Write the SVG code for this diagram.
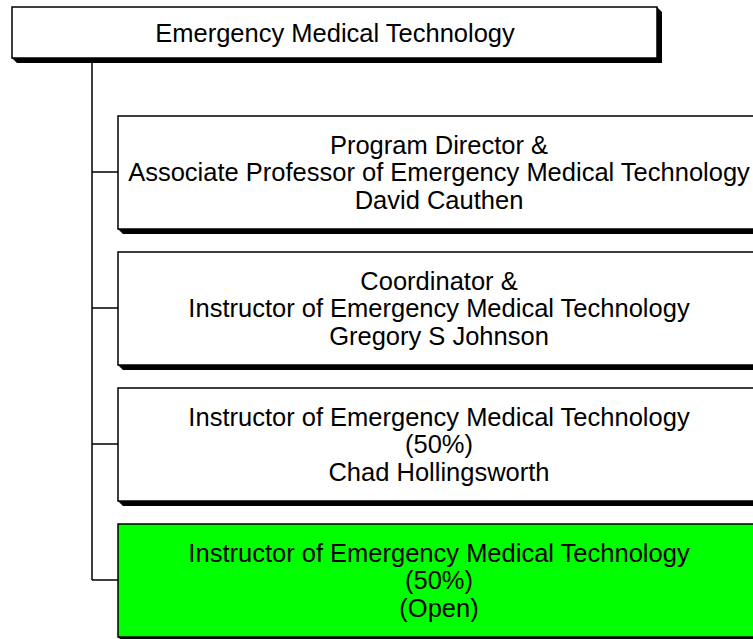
<svg xmlns="http://www.w3.org/2000/svg" width="753" height="639" viewBox="0 0 753 639">
<style>
.box{fill:#fff;stroke:#000;stroke-width:1.5}
.green{fill:#00ff00;stroke:#000;stroke-width:1.5}
.sh{fill:#000}
.t{font-family:"Liberation Sans",Arial,sans-serif;font-size:25.5px;fill:#000;text-anchor:middle}
.c{fill:none;stroke:#000;stroke-width:1.5}
</style>
<rect width="753" height="639" fill="#fff"/>
<g id="connectors">
<path class="c" d="M92,60 V580 M92,172 H118 M92,308 H118 M92,444 H118 M92,580 H118"/>
</g>
<g id="root">
<polygon class="sh" points="12,58 17,63 662,63 662,12 657,7 657,58"/>
<rect class="box" x="12" y="7" width="645" height="51"/>
<text class="t" x="335" y="42">Emergency Medical Technology</text>
</g>
<g id="n1">
<polygon class="sh" points="118,229 123,234 768,234 768,121 763,116 763,229"/>
<rect class="box" x="118" y="116" width="645" height="113"/>
<text class="t" x="439" y="154">Program Director &amp;</text>
<text class="t" x="439" y="181">Associate Professor of Emergency Medical Technology</text>
<text class="t" x="439" y="209">David Cauthen</text>
</g>
<g id="n2">
<polygon class="sh" points="118,365 123,370 768,370 768,257 763,252 763,365"/>
<rect class="box" x="118" y="252" width="645" height="113"/>
<text class="t" x="439" y="290">Coordinator &amp;</text>
<text class="t" x="439" y="317">Instructor of Emergency Medical Technology</text>
<text class="t" x="439" y="345">Gregory S Johnson</text>
</g>
<g id="n3">
<polygon class="sh" points="118,501 123,506 768,506 768,393 763,388 763,501"/>
<rect class="box" x="118" y="388" width="645" height="113"/>
<text class="t" x="439" y="426">Instructor of Emergency Medical Technology</text>
<text class="t" x="439" y="453">(50%)</text>
<text class="t" x="439" y="481">Chad Hollingsworth</text>
</g>
<g id="n4">
<polygon class="sh" points="118,637 123,642 768,642 768,529 763,524 763,637"/>
<rect class="green" x="118" y="524" width="645" height="113"/>
<text class="t" x="439" y="562">Instructor of Emergency Medical Technology</text>
<text class="t" x="439" y="589">(50%)</text>
<text class="t" x="439" y="617">(Open)</text>
</g>
</svg>
